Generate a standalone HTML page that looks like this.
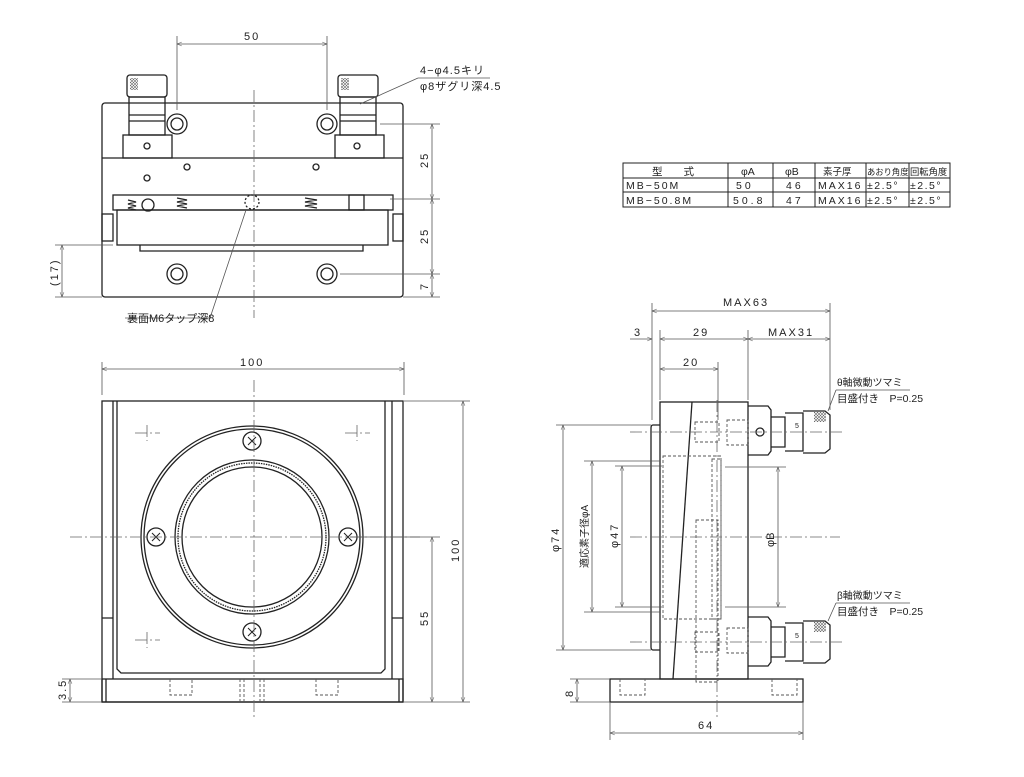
<!DOCTYPE html>
<html><head><meta charset="utf-8"><style>
html,body{margin:0;padding:0;background:#fff;}
svg{display:block;}
text{font-family:"Liberation Sans","Noto Sans CJK JP",sans-serif;fill:#222;}
</style></head><body>
<svg width="1024" height="777" viewBox="0 0 1024 777" xmlns="http://www.w3.org/2000/svg">
<defs>
<marker id="a" viewBox="0 0 10 10" refX="10" refY="5" markerWidth="8" markerHeight="6" orient="auto-start-reverse"><path d="M0,1 L10,5 L0,9" fill="none" stroke="#444" stroke-width="1"/></marker>
<pattern id="k" width="3" height="3" patternUnits="userSpaceOnUse"><path d="M0,0 L3,3 M3,0 L0,3" stroke="#666" stroke-width="0.6"/></pattern>
</defs>
<g fill="none" stroke="#222" stroke-width="1.3">
<!-- ===== TOP VIEW ===== -->
<rect x="102" y="103" width="301" height="194" rx="3"/>
<line x1="102" y1="158" x2="403" y2="158"/>
<rect x="123" y="135" width="49" height="23"/>
<rect x="335" y="135" width="49" height="23"/>
<rect x="127" y="75" width="40" height="22" rx="3"/>
<rect x="129" y="97" width="36" height="38"/>
<path d="M129,115 H165 M129,121 H165"/>
<rect x="338" y="75" width="40" height="22" rx="3"/>
<rect x="340" y="97" width="36" height="38"/>
<path d="M340,115 H376 M340,121 H376"/>
<circle cx="177" cy="124" r="10"/><circle cx="177" cy="124" r="6"/>
<circle cx="327" cy="124" r="10"/><circle cx="327" cy="124" r="6"/>
<circle cx="177" cy="274" r="10"/><circle cx="177" cy="274" r="6"/>
<circle cx="327" cy="274" r="10"/><circle cx="327" cy="274" r="6"/>
<circle cx="147" cy="146" r="3"/><circle cx="357" cy="146" r="3"/>
<circle cx="187" cy="167" r="3"/><circle cx="316" cy="167" r="3"/>
<circle cx="147" cy="178" r="3"/>
<rect x="113" y="195" width="280" height="15"/>
<rect x="117" y="210" width="271" height="35"/>
<path d="M140,245 V251 H363 V245"/>
<rect x="102" y="214" width="11" height="27"/><rect x="393" y="214" width="10" height="27"/>
<path d="M128,200 l8,2 -8,2 8,2 -8,2 8,2 M177,198 l10,2 -10,2 10,2 -10,2 10,2 M305,198 l12,2 -12,2 12,2 -12,2 12,2"/>
<circle cx="148" cy="205" r="6"/>
<rect x="349" y="195" width="15" height="15"/>
<circle cx="252" cy="202" r="7" stroke-dasharray="2 2"/>
<!-- ===== FRONT VIEW ===== -->
<rect x="102" y="401" width="301" height="301"/>
<line x1="113" y1="401" x2="113" y2="679"/><line x1="392" y1="401" x2="392" y2="679"/>
<path d="M117,401 V669 l4,4 H381 l4,-4 V401"/>
<path d="M102,618 H113 M392,618 H403"/>
<rect x="102" y="679" width="301" height="23"/>
<line x1="106" y1="679" x2="106" y2="702"/><line x1="399" y1="679" x2="399" y2="702"/>
<circle cx="252" cy="537" r="111"/><circle cx="252" cy="537" r="108"/>
<circle cx="252" cy="537" r="77"/><circle cx="252" cy="537" r="74" stroke-dasharray="1.5 1"/>
<circle cx="252" cy="537" r="70"/>
<circle cx="252" cy="441" r="9"/><circle cx="252" cy="632" r="9"/>
<circle cx="156" cy="537" r="9"/><circle cx="348" cy="537" r="9"/>
<g stroke-width="1">
<path d="M248,437 l8,8 M256,437 l-8,8 M248,628 l8,8 M256,628 l-8,8 M152,533 l8,8 M160,533 l-8,8 M344,533 l8,8 M352,533 l-8,8"/>
</g>
<!-- ===== SIDE VIEW ===== -->
<rect x="660" y="402" width="88" height="277"/>
<path d="M660,425 H653 Q651,425 651,428 V647 Q651,650 653,650 H660"/>
<line x1="692" y1="402" x2="673" y2="679"/>
<rect x="610" y="679" width="193" height="23"/>
<path d="M748,406 H768 l3,4 V451 l-3,4 H748"/>
<path d="M771,417 H785 V447 H771 M785,413 H803 V451 H785 M803,411 H825 l5,4 V449 l-5,4 H803"/>
<path d="M748,617 H768 l3,4 V662 l-3,4 H748"/>
<path d="M771,627 H785 V657 H771 M785,623 H803 V661 H785 M803,621 H825 l5,4 V659 l-5,4 H803"/>
<circle cx="760" cy="432" r="4"/>
</g>
<rect x="814" y="412" width="12" height="10" fill="url(#k)"/>
<rect x="814" y="622" width="12" height="10" fill="url(#k)"/>
<rect x="130" y="78" width="8" height="12" fill="url(#k)"/>
<rect x="341" y="78" width="8" height="12" fill="url(#k)"/>
<g fill="none" stroke="#555" stroke-width="0.9" stroke-dasharray="3 2">
<rect x="663" y="456" width="58" height="163"/>
<rect x="712" y="459" width="9" height="160"/>
<rect x="695" y="422" width="24" height="20"/>
<rect x="695" y="632" width="24" height="20"/>
<rect x="696" y="520" width="22" height="162"/>
<rect x="727" y="420" width="21" height="25"/>
<rect x="727" y="628" width="21" height="25"/>
<path d="M620,679 v16 h25 v-16 M772,679 v16 h25 v-16 M170,679 v16 h22 v-16 M316,679 v16 h22 v-16 M240,679 V702 M244,679 V702 M260,679 V702 M264,679 V702"/>
</g>
<g stroke="#666" stroke-width="0.8" stroke-dasharray="12 3 2 3" fill="none">
<line x1="254" y1="90" x2="254" y2="318"/>
<line x1="254" y1="380" x2="254" y2="720"/>
<line x1="70" y1="537" x2="420" y2="537"/>
<line x1="630" y1="537" x2="840" y2="537"/>
<line x1="630" y1="432" x2="845" y2="432"/>
<line x1="630" y1="642" x2="845" y2="642"/>
<line x1="717" y1="400" x2="717" y2="720"/>
<path d="M135,433 H160 M147,425 V441 M345,433 H370 M357,425 V441 M135,640 H160 M147,632 V648"/>
</g>
<g stroke="#555" stroke-width="0.8" fill="none">
<path d="M177,110 V36 M327,110 V36"/>
<line x1="177" y1="44" x2="327" y2="44" marker-start="url(#a)" marker-end="url(#a)"/>
<path d="M380,124 H440 M390,199 H440 M340,274 H440 M403,297 H440"/>
<line x1="432" y1="124" x2="432" y2="199" marker-start="url(#a)" marker-end="url(#a)"/>
<line x1="432" y1="199" x2="432" y2="274" marker-start="url(#a)" marker-end="url(#a)"/>
<line x1="432" y1="274" x2="432" y2="297" marker-start="url(#a)" marker-end="url(#a)"/>
<path d="M113,245 H55 M102,297 H55"/>
<line x1="62" y1="245" x2="62" y2="297" marker-start="url(#a)" marker-end="url(#a)"/>
<path d="M102,395 V362 M404,395 V362"/>
<line x1="102" y1="369" x2="404" y2="369" marker-start="url(#a)" marker-end="url(#a)"/>
<path d="M404,401 H470 M404,702 H470 M350,537 H440"/>
<line x1="463" y1="401" x2="463" y2="702" marker-start="url(#a)" marker-end="url(#a)"/>
<line x1="432" y1="537" x2="432" y2="702" marker-start="url(#a)" marker-end="url(#a)"/>
<path d="M102,679 H62 M102,702 H62"/>
<line x1="70" y1="679" x2="70" y2="702" marker-start="url(#a)" marker-end="url(#a)"/>
<path d="M652,420 V303 M830,410 V303 M660,400 V330 M748,400 V330 M660,380 V362 M718,420 V362"/>
<line x1="652" y1="311" x2="830" y2="311" marker-start="url(#a)" marker-end="url(#a)"/>
<line x1="660" y1="339" x2="748" y2="339" marker-start="url(#a)" marker-end="url(#a)"/>
<line x1="748" y1="339" x2="830" y2="339" marker-start="url(#a)" marker-end="url(#a)"/>
<line x1="630" y1="339" x2="652" y2="339" marker-end="url(#a)"/>
<line x1="660" y1="369" x2="718" y2="369" marker-start="url(#a)" marker-end="url(#a)"/>
<path d="M651,425 H556 M651,650 H556 M660,461 H584 M660,612 H584 M662,466 H615 M662,607 H615 M725,467 H786 M725,607 H786"/>
<line x1="563" y1="425" x2="563" y2="650" marker-start="url(#a)" marker-end="url(#a)"/>
<line x1="592" y1="461" x2="592" y2="612" marker-start="url(#a)" marker-end="url(#a)"/>
<line x1="622" y1="466" x2="622" y2="607" marker-start="url(#a)" marker-end="url(#a)"/>
<line x1="778" y1="467" x2="778" y2="607" marker-start="url(#a)" marker-end="url(#a)"/>
<path d="M610,679 H570 M610,702 H570 M610,702 V740 M803,702 V740"/>
<line x1="577" y1="679" x2="577" y2="702" marker-start="url(#a)" marker-end="url(#a)"/>
<line x1="610" y1="733" x2="803" y2="733" marker-start="url(#a)" marker-end="url(#a)"/>
<path d="M418,78 H490 M418,78 L360,104"/>
<path d="M125,318 H210 L246,210"/>
<path d="M836,390 H910 M836,390 L828,411"/>
<path d="M836,603 H910 M836,603 L828,621"/>
</g>
<g stroke="#222" stroke-width="1" fill="none">
<rect x="623" y="163" width="327" height="44"/>
<path d="M623,178 H950 M623,192 H950 M728,163 V207 M773,163 V207 M815,163 V207 M866,163 V207 M909,163 V207"/>
</g>
<g font-size="10.5">
<text x="652" y="175">型　　式</text><text x="741" y="175">φA</text><text x="785" y="175">φB</text>
<text x="823" y="175" font-size="9.5">素子厚</text><text x="867" y="175" font-size="8.3">あおり角度</text><text x="910" y="175" font-size="9.3">回転角度</text>
<text x="626" y="189" letter-spacing="2">MB−50M</text><text x="736" y="189" letter-spacing="3">50</text><text x="786" y="189" letter-spacing="3">46</text><text x="818" y="189" letter-spacing="2">MAX16</text><text x="867" y="189" letter-spacing="1.5">±2.5°</text><text x="910" y="189" letter-spacing="1.5">±2.5°</text>
<text x="626" y="204" letter-spacing="2">MB−50.8M</text><text x="733" y="204" letter-spacing="3">50.8</text><text x="786" y="204" letter-spacing="3">47</text><text x="818" y="204" letter-spacing="2">MAX16</text><text x="867" y="204" letter-spacing="1.5">±2.5°</text><text x="910" y="204" letter-spacing="1.5">±2.5°</text>
</g>
<g font-size="11">
<text x="244" y="40" letter-spacing="2">50</text>
<text x="420" y="74" letter-spacing="1">4−φ4.5キリ</text>
<text x="420" y="90" letter-spacing="1">φ8ザグリ深4.5</text>
<text x="127" y="322">裏面M6タップ深8</text>
<text transform="translate(428,168) rotate(-90)" letter-spacing="2">25</text>
<text transform="translate(428,244) rotate(-90)" letter-spacing="2">25</text>
<text transform="translate(428,290) rotate(-90)">7</text>
<text transform="translate(58,286) rotate(-90)" letter-spacing="2">(17)</text>
<text x="240" y="366" letter-spacing="2">100</text>
<text transform="translate(459,562) rotate(-90)" letter-spacing="2">100</text>
<text transform="translate(428,626) rotate(-90)" letter-spacing="2">55</text>
<text transform="translate(66,700) rotate(-90)" letter-spacing="2">3.5</text>
<text x="723" y="306" letter-spacing="2">MAX63</text>
<text x="634" y="336">3</text>
<text x="693" y="336" letter-spacing="2">29</text>
<text x="768" y="336" letter-spacing="2">MAX31</text>
<text x="683" y="366" letter-spacing="2">20</text>
<text transform="translate(559,552) rotate(-90)" letter-spacing="2">φ74</text>
<text transform="translate(588,568) rotate(-90)" font-size="10">適応素子径φA</text>
<text transform="translate(618,548) rotate(-90)" letter-spacing="2">φ47</text>
<text transform="translate(774,547) rotate(-90)">φB</text>
<text transform="translate(573,697) rotate(-90)">8</text>
<text x="698" y="729" letter-spacing="2">64</text>
<text x="837" y="386" font-size="10">θ軸微動ツマミ</text>
<text x="837" y="402" font-size="10.5">目盛付き　P=0.25</text>
<text x="837" y="599" font-size="10">β軸微動ツマミ</text>
<text x="837" y="615" font-size="10.5">目盛付き　P=0.25</text>
<text x="795" y="428" font-size="7">5</text><text x="795" y="638" font-size="7">5</text>
</g>
</svg>
</body></html>
